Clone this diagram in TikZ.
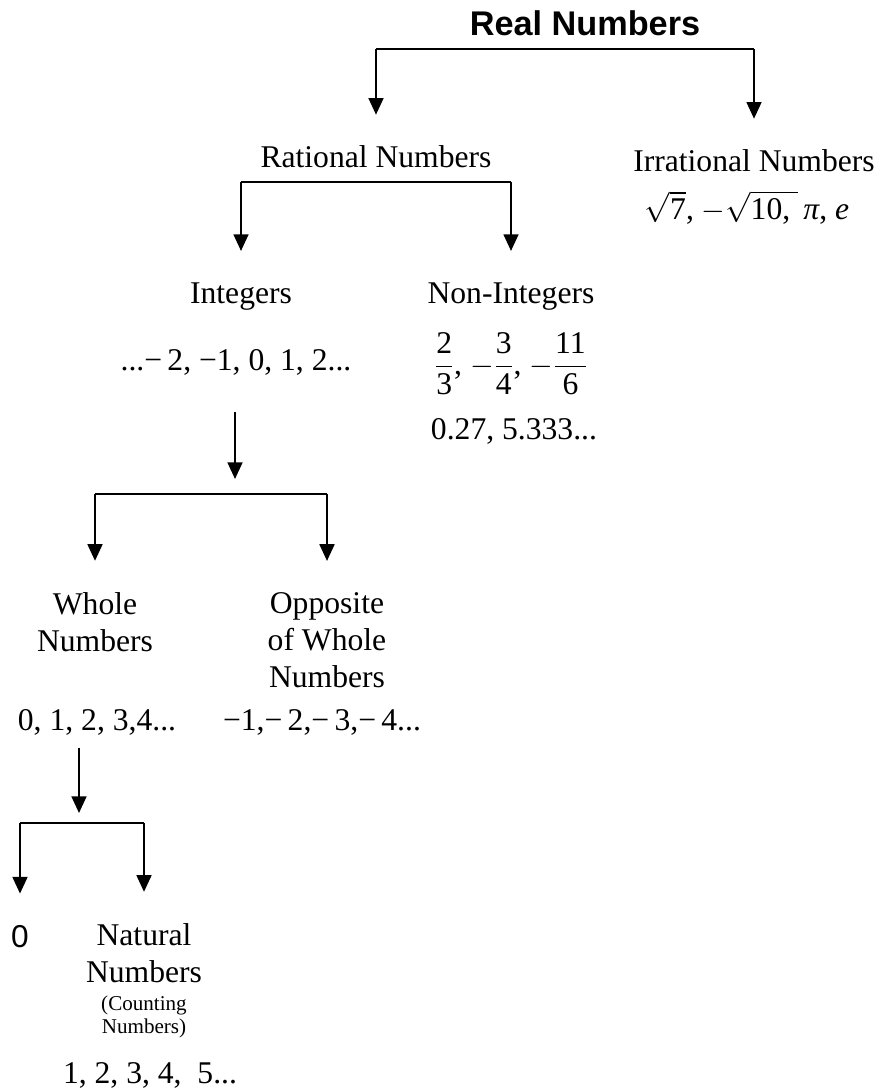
\documentclass[tikz,border=0pt]{standalone}
\usepackage{fontspec}
\setmainfont{Liberation Serif}
\newfontfamily\arialfont{Liberation Sans}
\usetikzlibrary{arrows.meta}

\begin{document}
\begin{tikzpicture}[x=0.02cm, y=-0.02cm,
    txt/.style={anchor=base, inner sep=0pt, align=center, font=\fontsize{18}{21}\selectfont},
    small/.style={anchor=base, inner sep=0pt, align=center, font=\fontsize{12}{13}\selectfont},
    bar/.style={line width=1.1pt},
    arr/.style={bar, -{Triangle[width=8.5pt,length=9.5pt]}, shorten >=0.62cm}]
  \useasboundingbox (0,0) rectangle (882,1091);

  \node[anchor=base, inner sep=0pt, font=\arialfont\bfseries\fontsize{19.5}{21}\selectfont] (real) at (585,36) {Real Numbers};
  \node[txt] (rat) at (376,168) {Rational Numbers};
  \node[txt] (irr) at (754,172) {Irrational Numbers};
  \node[txt] (irrval) at (747,219) {$\sqrt{\mbox{7}}$, $-\sqrt{\raisebox{0pt}[\height][0pt]{10, }}$\,\textit{π}, \textit{e}};
  \node[txt] (int) at (241,303) {Integers};
  \node[txt] (intval) at (236,370) {...−\,2, −1, 0, 1, 2...};
  \node[txt] (nonint) at (511,303) {Non-Integers};
  \node[txt] (frac) at (511,374) {$\displaystyle\frac{\mbox{2}}{\mbox{3}}$, $-\displaystyle\frac{\mbox{3}}{\mbox{4}}$, $-\displaystyle\frac{\mbox{11}}{\mbox{6}}$};
  \node[txt] (decval) at (514,439) {0.27, 5.333...};
  \node[txt] (whole) at (95,651) {Whole\\Numbers};
  \node[txt] (opp) at (327,687) {Opposite\\of Whole\\Numbers};
  \node[txt] (wholeval) at (97,730) {0, 1, 2, 3,4...};
  \node[txt] (oppval) at (322,730) {−1,−\,2,−\,3,−\,4...};
  \node[txt, font=\arialfont\fontsize{18}{21}\selectfont] (zero) at (20,947) {0};
  \node[txt] (nat) at (144,982) {Natural\\Numbers};
  \node[small] (count) at (144,1033) {(Counting\\Numbers)};
  \node[txt] (natval) at (150,1083) {1, 2, 3, 4,\ \ 5...};

  \coordinate (b1) at (566,49);
  \coordinate (b2) at (376,182);
  \coordinate (b3) at (235,494);
  \coordinate (b4) at (79,823);

  \draw[bar] (b1 -| rat) -- (b1 -| irr);
  \draw[arr] (b1 -| rat) -- (rat.north);
  \draw[arr] (b1 -| irr) -- (irr.north);

  \draw[bar] (b2 -| int) -- (b2 -| nonint);
  \draw[arr] (b2 -| int) -- (int.north);
  \draw[arr] (b2 -| nonint) -- (nonint.north);

  \draw[arr, shorten <=0.74cm, shorten >=0.3cm] (b3 |- intval.south) -- (b3);
  \draw[bar] (b3 -| whole) -- (b3 -| opp);
  \draw[arr] (b3 -| whole) -- (whole.north);
  \draw[arr] (b3 -| opp) -- (opp.north);

  \draw[arr, shorten <=0.25cm, shorten >=0.2cm] (b4 |- wholeval.south) -- (b4);
  \draw[bar] (b4 -| zero) -- (b4 -| nat);
  \draw[arr] (b4 -| zero) -- (zero.north);
  \draw[arr] (b4 -| nat) -- (nat.north);
\end{tikzpicture}
\end{document}
